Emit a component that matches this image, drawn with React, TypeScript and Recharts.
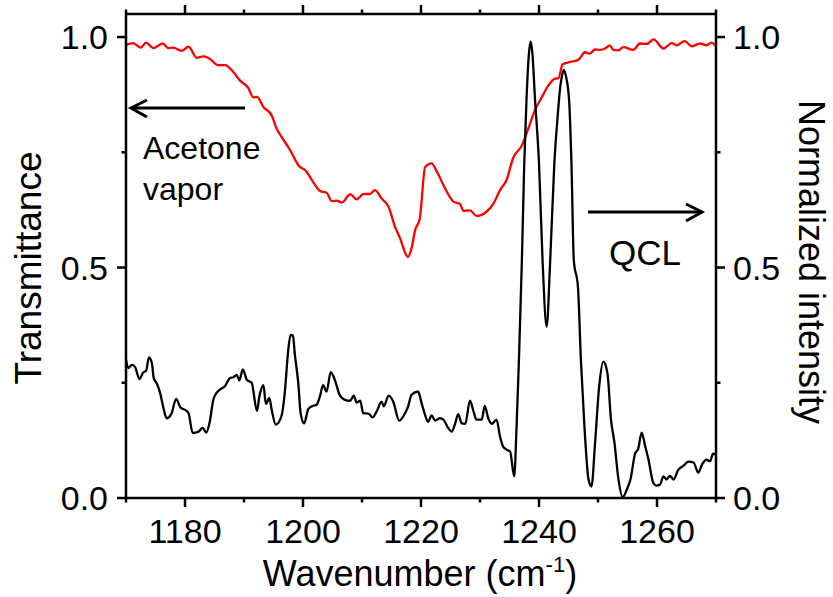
import { LineChart, Line, XAxis, YAxis } from 'recharts';

// Acetone vapor transmittance (red, left axis)
const acetoneWavenumber = [
  1170.0, 1171.2, 1172.5, 1173.4, 1174.6, 1176.2, 1177.2, 1178.0, 1179.4, 1180.6,
  1182.0, 1183.1, 1184.2, 1185.6, 1186.8, 1188.2, 1189.3, 1190.7, 1191.6, 1192.2,
  1193.3, 1194.7, 1195.5, 1196.4, 1197.8, 1199.2, 1200.6, 1201.7, 1202.9, 1204.0,
  1204.9, 1205.7, 1206.6, 1208.0, 1209.1, 1210.2, 1211.4, 1212.2, 1213.3, 1214.5,
  1215.6, 1216.4, 1217.8, 1218.4, 1219.0, 1219.8, 1220.7, 1221.8, 1222.7, 1223.8,
  1225.5, 1226.6, 1227.2, 1228.3, 1229.4, 1231.1, 1232.3, 1233.4, 1234.5, 1235.6,
  1237.1, 1238.2, 1239.3, 1240.5, 1241.6, 1242.7, 1243.3, 1244.0, 1245.3, 1246.7,
  1247.8, 1248.6, 1249.5, 1250.3, 1251.2, 1252.0, 1252.6, 1253.4, 1254.3, 1256.0,
  1257.1, 1258.3, 1259.4, 1261.1, 1262.5, 1263.3, 1264.7, 1265.9, 1267.3, 1268.4,
  1269.2, 1270.0,
];
const acetoneTransmittance = [
  0.983, 0.987, 0.977, 0.988, 0.976, 0.986, 0.976, 0.977, 0.970, 0.979,
  0.955, 0.958, 0.953, 0.939, 0.939, 0.924, 0.906, 0.890, 0.869, 0.870,
  0.848, 0.830, 0.802, 0.783, 0.755, 0.722, 0.708, 0.686, 0.666, 0.662,
  0.644, 0.645, 0.641, 0.659, 0.648, 0.659, 0.660, 0.668, 0.650, 0.632,
  0.588, 0.565, 0.523, 0.542, 0.581, 0.607, 0.718, 0.726, 0.708, 0.679,
  0.643, 0.638, 0.623, 0.624, 0.612, 0.621, 0.639, 0.668, 0.690, 0.737,
  0.765, 0.802, 0.841, 0.870, 0.895, 0.910, 0.911, 0.941, 0.946, 0.951,
  0.967, 0.964, 0.973, 0.972, 0.975, 0.982, 0.972, 0.971, 0.978, 0.972,
  0.986, 0.985, 0.995, 0.975, 0.987, 0.982, 0.991, 0.980, 0.986, 0.982,
  0.988, 0.980,
];

// QCL normalized intensity (black, right axis)
const qclWavenumber = [
  1170.0, 1170.4, 1171.0, 1171.5, 1172.3, 1172.9, 1173.4, 1173.9, 1174.4, 1174.7,
  1175.2, 1175.8, 1176.3, 1176.9, 1177.7, 1178.5, 1179.2, 1180.0, 1180.6, 1181.3,
  1182.3, 1183.0, 1183.6, 1184.2, 1184.8, 1185.4, 1185.9, 1186.8, 1187.6, 1188.2,
  1188.8, 1189.2, 1189.8, 1190.5, 1191.3, 1192.2, 1192.6, 1193.3, 1193.7, 1194.3,
  1194.7, 1195.4, 1196.4, 1196.9, 1197.5, 1197.9, 1198.3, 1198.6, 1199.2, 1199.6,
  1200.2, 1200.9, 1201.7, 1202.3, 1202.9, 1203.4, 1204.0, 1204.7, 1205.4, 1206.2,
  1207.1, 1208.0, 1208.6, 1209.1, 1209.7, 1210.2, 1211.1, 1211.8, 1212.5, 1213.3,
  1213.7, 1214.5, 1215.3, 1216.3, 1217.3, 1217.8, 1218.4, 1219.5, 1220.1, 1220.7,
  1221.2, 1221.8, 1222.4, 1223.2, 1223.8, 1224.6, 1225.2, 1225.8, 1226.3, 1226.9,
  1227.5, 1228.3, 1228.9, 1229.4, 1230.3, 1230.8, 1231.4, 1232.0, 1232.8, 1233.4,
  1233.9, 1234.5, 1235.1, 1235.8, 1236.2, 1236.6, 1237.1, 1237.5, 1237.9, 1238.3,
  1238.6, 1238.9, 1239.3, 1240.0, 1240.6, 1241.3, 1241.9, 1242.6, 1243.2, 1243.6,
  1243.9, 1244.2, 1244.6, 1245.1, 1245.5, 1245.9, 1246.6, 1247.1, 1247.7, 1248.4,
  1248.9, 1249.5, 1250.2, 1250.9, 1251.6, 1252.2, 1252.8, 1253.4, 1254.2, 1254.9,
  1255.5, 1256.3, 1256.8, 1257.4, 1258.0, 1258.5, 1259.4, 1259.9, 1260.5, 1261.1,
  1261.6, 1262.2, 1262.8, 1263.6, 1264.5, 1265.3, 1266.2, 1267.0, 1267.6, 1268.4,
  1269.0, 1269.5, 1270.0,
];
const qclIntensity = [
  0.300, 0.282, 0.289, 0.285, 0.258, 0.272, 0.276, 0.305, 0.292, 0.260,
  0.249, 0.227, 0.198, 0.173, 0.183, 0.215, 0.197, 0.191, 0.184, 0.141,
  0.144, 0.152, 0.142, 0.166, 0.213, 0.229, 0.235, 0.243, 0.260, 0.262,
  0.267, 0.255, 0.279, 0.256, 0.250, 0.189, 0.220, 0.245, 0.204, 0.217,
  0.191, 0.159, 0.180, 0.227, 0.321, 0.354, 0.352, 0.314, 0.249, 0.184,
  0.162, 0.193, 0.200, 0.202, 0.222, 0.245, 0.231, 0.273, 0.256, 0.224,
  0.213, 0.211, 0.222, 0.207, 0.211, 0.184, 0.183, 0.175, 0.188, 0.209,
  0.199, 0.222, 0.209, 0.168, 0.184, 0.198, 0.224, 0.231, 0.206, 0.180,
  0.165, 0.179, 0.168, 0.173, 0.170, 0.152, 0.144, 0.162, 0.182, 0.162,
  0.161, 0.211, 0.188, 0.170, 0.170, 0.200, 0.173, 0.161, 0.170, 0.133,
  0.112, 0.105, 0.101, 0.047, 0.155, 0.300, 0.516, 0.726, 0.870, 0.965,
  0.990, 0.962, 0.870, 0.726, 0.516, 0.372, 0.516, 0.726, 0.834, 0.892,
  0.916, 0.929, 0.913, 0.863, 0.726, 0.516, 0.458, 0.300, 0.155, 0.040,
  0.025, 0.119, 0.242, 0.296, 0.271, 0.170, 0.119, 0.047, 0.002, 0.019,
  0.040, 0.097, 0.106, 0.142, 0.112, 0.087, 0.032, 0.027, 0.029, 0.047,
  0.040, 0.048, 0.040, 0.061, 0.070, 0.079, 0.077, 0.055, 0.072, 0.083,
  0.080, 0.096, 0.094,
];

const xTicks = [1170, 1180, 1190, 1200, 1210, 1220, 1230, 1240, 1250, 1260, 1270];
const yTicks = [0, 0.25, 0.5, 0.75, 1.0];

const acetoneData = acetoneWavenumber.map((w, i) => ({ w, t: acetoneTransmittance[i] }));
const qclData = qclWavenumber.map((w, i) => ({ w, q: qclIntensity[i] }));

const FONT = '"Liberation Sans", Arial, sans-serif';
const AXIS_W = 2.5;
const MAJOR = 9;
const MINOR = 4.5;

const isMajorY = (v: number) => Math.abs(v * 2 - Math.round(v * 2)) < 1e-6;
const isMajorX = (v: number) => v % 20 === 0;

const LeftTick = ({ x, y, payload }: any) => {
  const major = isMajorY(payload.value);
  return (
    <g>
      <line x1={x - (major ? MAJOR : MINOR)} x2={x} y1={y} y2={y} stroke="#000" strokeWidth={AXIS_W} />
      {major && (
        <text x={x - 18} y={y} textAnchor="end" dominantBaseline="central" fontSize={34} fontFamily={FONT} fill="#000">
          {payload.value.toFixed(1)}
        </text>
      )}
    </g>
  );
};

const RightTick = ({ x, y, payload }: any) => {
  const major = isMajorY(payload.value);
  return (
    <g>
      <line x1={x} x2={x + (major ? MAJOR : MINOR)} y1={y} y2={y} stroke="#000" strokeWidth={AXIS_W} />
      {major && (
        <text x={x + 17} y={y} textAnchor="start" dominantBaseline="central" fontSize={34} fontFamily={FONT} fill="#000">
          {payload.value.toFixed(1)}
        </text>
      )}
    </g>
  );
};

const BottomTick = ({ x, y, payload }: any) => {
  const major = isMajorX(payload.value);
  return (
    <g>
      <line x1={x} x2={x} y1={y} y2={y + (major ? MAJOR : MINOR)} stroke="#000" strokeWidth={AXIS_W} />
      {major && (
        <text x={x} y={y + 45} textAnchor="middle" fontSize={34} fontFamily={FONT} fill="#000">
          {payload.value}
        </text>
      )}
    </g>
  );
};

const TopTick = ({ x, y, payload }: any) => {
  const major = isMajorX(payload.value);
  return <line x1={x} x2={x} y1={y} y2={y - (major ? MAJOR : MINOR)} stroke="#000" strokeWidth={AXIS_W} />;
};

export default function App() {
  return (
    <div style={{ position: 'absolute', left: 0, top: 0, width: 833, height: 597, background: '#fff' }}>
      <LineChart width={833} height={597} margin={{ top: 0, right: 0, bottom: 0, left: 0 }}>
        <XAxis
          xAxisId="bottom"
          type="number"
          dataKey="w"
          domain={[1170, 1270]}
          ticks={xTicks}
          interval={0}
          height={99}
          tickSize={0}
          tickMargin={0}
          tickLine={false}
          tick={BottomTick}
          axisLine={{ stroke: '#000', strokeWidth: AXIS_W }}
          allowDataOverflow
        />
        <XAxis
          xAxisId="top"
          orientation="top"
          type="number"
          dataKey="w"
          domain={[1170, 1270]}
          ticks={xTicks}
          interval={0}
          height={14}
          tickSize={0}
          tickMargin={0}
          tickLine={false}
          tick={TopTick}
          axisLine={{ stroke: '#000', strokeWidth: AXIS_W }}
          allowDataOverflow
        />
        <YAxis
          yAxisId="left"
          type="number"
          domain={[0, 1.05]}
          ticks={yTicks}
          interval={0}
          width={126}
          tickSize={0}
          tickMargin={0}
          tickLine={false}
          tick={LeftTick}
          axisLine={{ stroke: '#000', strokeWidth: AXIS_W }}
          allowDataOverflow
        />
        <YAxis
          yAxisId="right"
          orientation="right"
          type="number"
          domain={[0, 1.05]}
          ticks={yTicks}
          interval={0}
          width={117}
          tickSize={0}
          tickMargin={0}
          tickLine={false}
          tick={RightTick}
          axisLine={{ stroke: '#000', strokeWidth: AXIS_W }}
          allowDataOverflow
        />
        <Line
          data={acetoneData}
          xAxisId="bottom"
          yAxisId="left"
          dataKey="t"
          type="monotoneX"
          stroke="#ff0000"
          strokeWidth={2.3}
          dot={false}
          isAnimationActive={false}
        />
        <Line
          data={qclData}
          xAxisId="bottom"
          yAxisId="right"
          dataKey="q"
          type="monotoneX"
          stroke="#000"
          strokeWidth={2.3}
          dot={false}
          isAnimationActive={false}
        />
      </LineChart>

      {/* axis titles and annotations */}
      <svg width={833} height={597} style={{ position: 'absolute', left: 0, top: 0, pointerEvents: 'none' }}>
        <g fontFamily={FONT} fill="#000">
          <text x={0} y={0} fontSize={37} textAnchor="middle" dominantBaseline="central" transform="translate(28,268) rotate(-90)">
            Transmittance
          </text>
          <text x={0} y={0} fontSize={36} textAnchor="middle" dominantBaseline="central" transform="translate(811,262) rotate(90)">
            Normalized intensity
          </text>
          <text x={420} y={586} fontSize={36} textAnchor="middle">
            Wavenumber (cm<tspan fontSize={22} dy={-14}>-1</tspan><tspan dy={14}>)</tspan>
          </text>
          <text x={143} y={159} fontSize={32}>Acetone</text>
          <text x={143} y={200} fontSize={32}>vapor</text>
          <text x={609} y={265} fontSize={35}>QCL</text>
        </g>
        <g stroke="#000" strokeWidth={3} fill="none">
          <line x1={245} y1={108} x2={131} y2={108} />
          <polyline points="147,100 131,108 147,117" />
          <line x1={588} y1={212} x2={702} y2={212} />
          <polyline points="686,204 702,212 686,221" />
        </g>
      </svg>
    </div>
  );
}
